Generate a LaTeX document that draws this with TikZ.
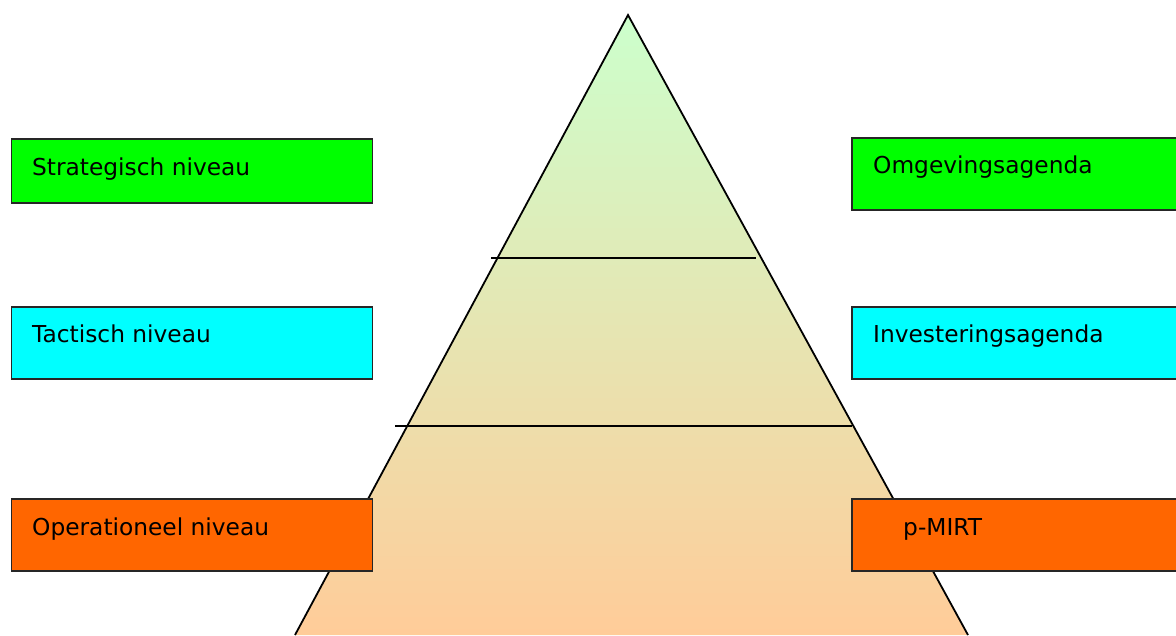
\documentclass[tikz,border=0pt]{standalone}
\usepackage{fontspec}
\setmainfont{DejaVu Sans}
\definecolor{pgreen}{HTML}{CCFFCC}
\definecolor{ppeach}{HTML}{FFCC99}
\definecolor{bgreen}{HTML}{00FF00}
\definecolor{bcyan}{HTML}{00FFFF}
\definecolor{borange}{HTML}{FF6600}
\tikzset{
  lvlbox/.style={draw=black!85, line width=1.6pt, rectangle, inner sep=0pt, anchor=north west},
  lbl/.style={anchor=base west, inner sep=0pt, font=\fontsize{23.3}{28}\selectfont},
  sepline/.style={line width=1.8pt, black}
}
\begin{document}
\begin{tikzpicture}[x=1pt,y=-1pt]
\useasboundingbox (0,0) rectangle (1176,635);
\clip (0,0) rectangle (1176,635);
% pyramid
\coordinate (apex) at (628,15);
\coordinate (bl) at (295,635);
\coordinate (br) at (968,635);
\shade[top color=pgreen, bottom color=ppeach] (apex) -- (bl) -- (br) -- cycle;
\draw[line width=1.8pt, line join=miter] (bl) -- (apex) -- (br);
% separator lines
\coordinate (l1a) at (491,258);
\coordinate (l1b) at (756,258);
\coordinate (l2a) at (395,426);
\coordinate (l2b) at (852,426);
\draw[sepline] (l1a) -- (l1b);
\draw[sepline] (l2a) -- (l2b);
% left boxes
\node[lvlbox, fill=bgreen, minimum width=361, minimum height=64] (sb) at (10.5,138) {};
\node[lvlbox, fill=bcyan, minimum width=361, minimum height=72] (tb) at (10.5,306) {};
\node[lvlbox, fill=borange, minimum width=361, minimum height=72] (ob) at (10.5,498) {};
\node[lbl] (st) at (32,175) {Strategisch niveau};
\node[lbl] (tt) at (32,342) {Tactisch niveau};
\node[lbl] (ot) at (32,535) {Operationeel niveau};
% right boxes
\node[lvlbox, fill=bgreen, minimum width=340, minimum height=72] (rb1) at (851,137) {};
\node[lvlbox, fill=bcyan, minimum width=340, minimum height=72] (rb2) at (851,306) {};
\node[lvlbox, fill=borange, minimum width=340, minimum height=72] (rb3) at (851,498) {};
\node[lbl] (rt1) at (873,173) {Omgevingsagenda};
\node[lbl] (rt2) at (873,342) {Investeringsagenda};
\node[lbl] (rt3) at (903,535) {p-MIRT};
\end{tikzpicture}
\end{document}
